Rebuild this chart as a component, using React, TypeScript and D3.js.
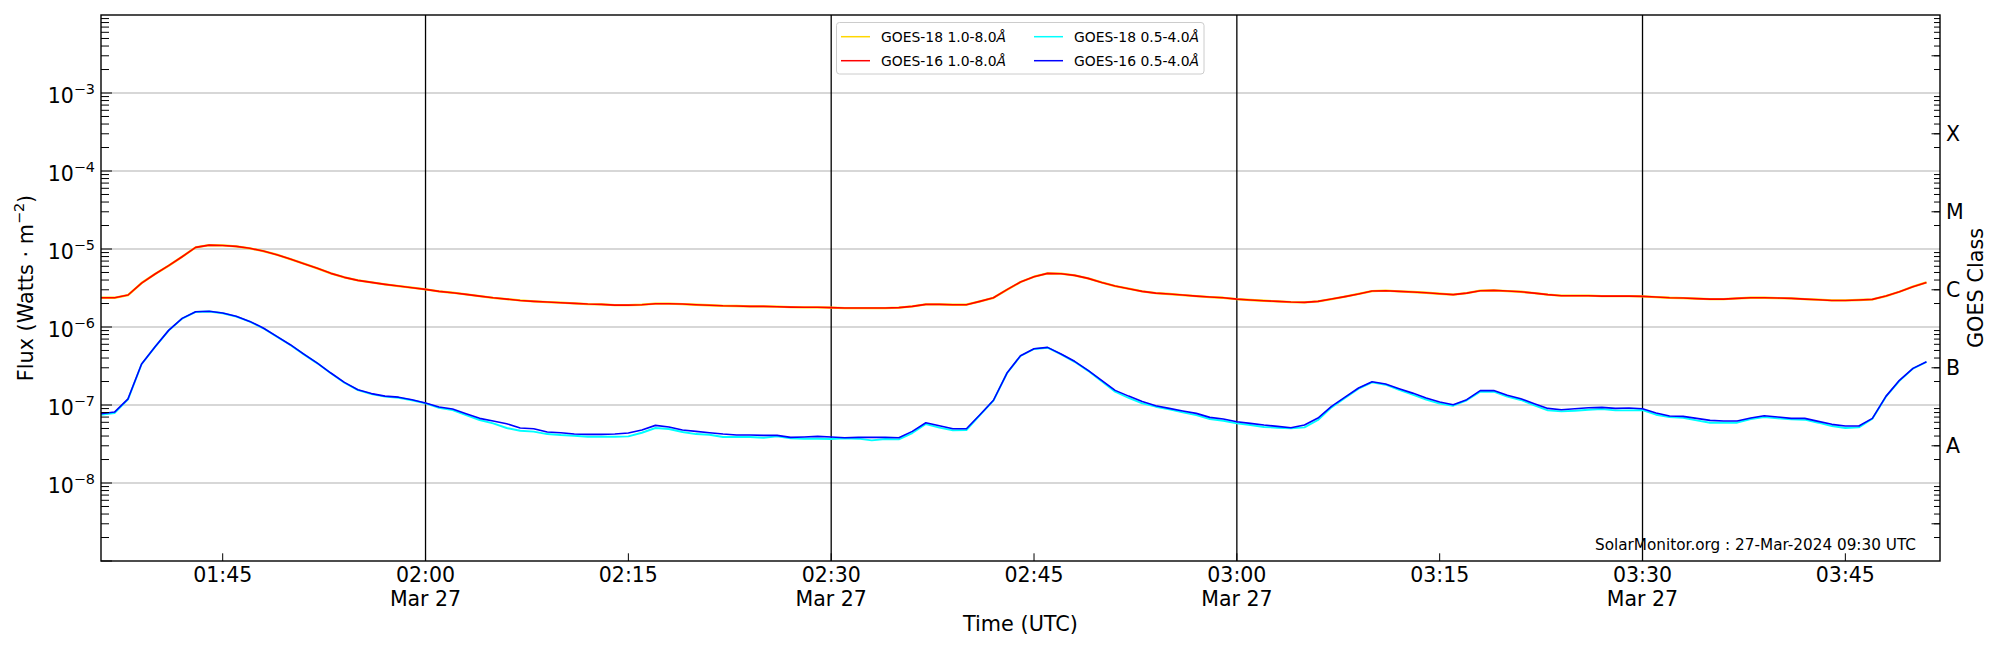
import React from "react";
import * as d3 from "d3";

// ---------- data ----------
const sampleStart = "2024-03-27T01:36:00Z"; // first 1-minute sample
const xDomain = ["2024-03-27T01:36:00Z", "2024-03-27T03:52:00Z"];

const goes16Long = [
  2.37e-6, 2.37e-6, 2.57e-6, 3.66e-6, 4.78e-6, 6.11e-6, 7.96e-6, 1.05e-5, 1.12e-5, 1.11e-5,
  1.08e-5, 1.02e-5, 9.42e-6, 8.45e-6, 7.43e-6, 6.48e-6, 5.65e-6, 4.87e-6, 4.33e-6, 3.96e-6,
  3.73e-6, 3.52e-6, 3.35e-6, 3.19e-6, 3.04e-6, 2.86e-6, 2.75e-6, 2.62e-6, 2.49e-6, 2.37e-6,
  2.28e-6, 2.19e-6, 2.13e-6, 2.09e-6, 2.05e-6, 2.01e-6, 1.97e-6, 1.95e-6, 1.91e-6, 1.91e-6,
  1.93e-6, 1.99e-6, 1.99e-6, 1.97e-6, 1.93e-6, 1.9e-6, 1.87e-6, 1.86e-6, 1.84e-6, 1.84e-6,
  1.82e-6, 1.8e-6, 1.79e-6, 1.79e-6, 1.77e-6, 1.75e-6, 1.75e-6, 1.75e-6, 1.75e-6, 1.77e-6,
  1.84e-6, 1.95e-6, 1.95e-6, 1.93e-6, 1.93e-6, 2.13e-6, 2.37e-6, 3.01e-6, 3.77e-6, 4.41e-6,
  4.87e-6, 4.82e-6, 4.59e-6, 4.2e-6, 3.73e-6, 3.35e-6, 3.1e-6, 2.86e-6, 2.72e-6, 2.65e-6,
  2.57e-6, 2.49e-6, 2.42e-6, 2.37e-6, 2.28e-6, 2.22e-6, 2.17e-6, 2.13e-6, 2.09e-6, 2.07e-6,
  2.13e-6, 2.28e-6, 2.45e-6, 2.65e-6, 2.89e-6, 2.92e-6, 2.86e-6, 2.81e-6, 2.75e-6, 2.67e-6,
  2.6e-6, 2.72e-6, 2.92e-6, 2.95e-6, 2.89e-6, 2.83e-6, 2.72e-6, 2.6e-6, 2.52e-6, 2.52e-6,
  2.52e-6, 2.49e-6, 2.49e-6, 2.49e-6, 2.47e-6, 2.42e-6, 2.37e-6, 2.35e-6, 2.31e-6, 2.28e-6,
  2.28e-6, 2.33e-6, 2.37e-6, 2.37e-6, 2.35e-6, 2.33e-6, 2.28e-6, 2.24e-6, 2.19e-6, 2.19e-6,
  2.22e-6, 2.26e-6, 2.49e-6, 2.83e-6, 3.29e-6, 3.73e-6,
];

// GOES-18 long channel lies right under the GOES-16 curve in the picture
const goes18Long = [...goes16Long];

const goes16Short = [
  7.73e-8, 8.12e-8, 1.2e-7, 3.35e-7, 5.59e-7, 9.05e-7, 1.29e-6, 1.57e-6, 1.59e-6, 1.51e-6,
  1.37e-6, 1.18e-6, 9.7e-7, 7.58e-7, 5.93e-7, 4.5e-7, 3.45e-7, 2.57e-7, 1.95e-7, 1.57e-7,
  1.4e-7, 1.3e-7, 1.26e-7, 1.17e-7, 1.06e-7, 9.42e-8, 8.88e-8, 7.73e-8, 6.74e-8, 6.23e-8,
  5.76e-8, 5.07e-8, 4.97e-8, 4.5e-8, 4.41e-8, 4.24e-8, 4.2e-8, 4.2e-8, 4.24e-8, 4.37e-8,
  4.78e-8, 5.48e-8, 5.22e-8, 4.78e-8, 4.59e-8, 4.41e-8, 4.24e-8, 4.12e-8, 4.12e-8, 4.08e-8,
  4.08e-8, 3.85e-8, 3.89e-8, 3.96e-8, 3.89e-8, 3.81e-8, 3.85e-8, 3.85e-8, 3.85e-8, 3.81e-8,
  4.59e-8, 5.93e-8, 5.43e-8, 4.97e-8, 4.97e-8, 7.51e-8, 1.15e-7, 2.57e-7, 4.29e-7, 5.27e-7,
  5.48e-7, 4.5e-7, 3.63e-7, 2.78e-7, 2.07e-7, 1.54e-7, 1.3e-7, 1.11e-7, 9.79e-8, 9.05e-8,
  8.37e-8, 7.81e-8, 6.94e-8, 6.61e-8, 6.11e-8, 5.81e-8, 5.53e-8, 5.32e-8, 5.12e-8, 5.53e-8,
  6.8e-8, 9.6e-8, 1.26e-7, 1.65e-7, 1.99e-7, 1.86e-7, 1.62e-7, 1.42e-7, 1.23e-7, 1.09e-7,
  1.01e-7, 1.17e-7, 1.53e-7, 1.53e-7, 1.33e-7, 1.2e-7, 1.04e-7, 9.05e-8, 8.71e-8, 8.96e-8,
  9.23e-8, 9.32e-8, 9.05e-8, 9.14e-8, 8.96e-8, 7.89e-8, 7.22e-8, 7.15e-8, 6.74e-8, 6.35e-8,
  6.23e-8, 6.23e-8, 6.81e-8, 7.29e-8, 7.01e-8, 6.74e-8, 6.74e-8, 6.17e-8, 5.65e-8, 5.37e-8,
  5.37e-8, 6.74e-8, 1.29e-7, 2.07e-7, 2.95e-7, 3.59e-7,
];

const goes18Short = [
  7.51e-8, 7.89e-8, 1.18e-7, 3.33e-7, 5.57e-7, 9.0e-7, 1.28e-6, 1.56e-6, 1.58e-6, 1.5e-6,
  1.36e-6, 1.17e-6, 9.62e-7, 7.52e-7, 5.88e-7, 4.46e-7, 3.42e-7, 2.55e-7, 1.93e-7, 1.55e-7,
  1.38e-7, 1.28e-7, 1.24e-7, 1.15e-7, 1.05e-7, 9.2e-8, 8.6e-8, 7.43e-8, 6.42e-8, 5.81e-8,
  5.07e-8, 4.68e-8, 4.55e-8, 4.24e-8, 4.12e-8, 4.04e-8, 3.92e-8, 3.92e-8, 3.92e-8, 3.96e-8,
  4.41e-8, 5.07e-8, 4.92e-8, 4.5e-8, 4.24e-8, 4.16e-8, 3.89e-8, 3.89e-8, 3.89e-8, 3.81e-8,
  3.96e-8, 3.73e-8, 3.7e-8, 3.7e-8, 3.66e-8, 3.73e-8, 3.7e-8, 3.52e-8, 3.66e-8, 3.62e-8,
  4.37e-8, 5.7e-8, 5.12e-8, 4.73e-8, 4.78e-8, 7.43e-8, 1.14e-7, 2.55e-7, 4.25e-7, 5.22e-7,
  5.43e-7, 4.46e-7, 3.58e-7, 2.74e-7, 2.01e-7, 1.48e-7, 1.23e-7, 1.05e-7, 9.51e-8, 8.79e-8,
  8.04e-8, 7.43e-8, 6.61e-8, 6.29e-8, 5.81e-8, 5.53e-8, 5.22e-8, 5.12e-8, 5.02e-8, 5.17e-8,
  6.42e-8, 9.32e-8, 1.23e-7, 1.62e-7, 1.95e-7, 1.82e-7, 1.56e-7, 1.36e-7, 1.17e-7, 1.04e-7,
  9.79e-8, 1.15e-7, 1.48e-7, 1.48e-7, 1.28e-7, 1.16e-7, 9.89e-8, 8.54e-8, 8.29e-8, 8.45e-8,
  8.71e-8, 8.88e-8, 8.54e-8, 8.54e-8, 8.62e-8, 7.51e-8, 7.01e-8, 6.87e-8, 6.35e-8, 5.93e-8,
  5.93e-8, 5.93e-8, 6.61e-8, 7.01e-8, 6.74e-8, 6.54e-8, 6.48e-8, 5.93e-8, 5.37e-8, 5.07e-8,
  5.17e-8, 6.67e-8, 1.28e-7, 2.04e-7, 2.93e-7, 3.56e-7,
];

const seriesNames = [
  "GOES-18 1.0-8.0",
  "GOES-16 1.0-8.0",
  "GOES-18 0.5-4.0",
  "GOES-16 0.5-4.0",
];
const seriesColors = ["#ffd700", "#ff0000", "#00ffff", "#0000ff"];
const seriesWidths = [2.3, 1.6, 1.9, 1.6];
const seriesData = [goes18Long, goes16Long, goes18Short, goes16Short];

const xTickTimes = ["01:45", "02:00", "02:15", "02:30", "02:45", "03:00", "03:15", "03:30", "03:45"];
const xTickDates = ["", "Mar 27", "", "Mar 27", "", "Mar 27", "", "Mar 27", ""];
const vLineTimes = ["02:00", "02:30", "03:00", "03:30"];

const yTickExponents = [-8, -7, -6, -5, -4, -3];
const goesClassLabels = ["A", "B", "C", "M", "X"];
const goesClassLevels = [3e-8, 3e-7, 3e-6, 3e-5, 3e-4];

const watermark = "SolarMonitor.org : 27-Mar-2024 09:30 UTC";

// ---------- layout ----------
const W = 2000;
const H = 650;
const L = 101;
const R = 1940;
const T = 15;
const B = 561;
const FONT = "DejaVu Sans";
const TICK_FS = 20.5;
const SUP_FS = 14.4;

const toTime = (hm: string) => new Date(`2024-03-27T${hm}:00Z`);

export default function App() {
  const x = d3
    .scaleUtc()
    .domain([new Date(xDomain[0]), new Date(xDomain[1])])
    .range([L, R]);
  const y = d3.scaleLog().domain([1e-9, 1e-2]).range([B, T]);

  const t0 = new Date(sampleStart);
  const times = goes16Long.map((_, i) => d3.utcMinute.offset(t0, i));

  const line = d3
    .line<number>()
    .x((_, i) => x(times[i]))
    .y((d) => y(d));

  const decades = d3.range(-9, -2);
  const minorVals: number[] = [];
  decades.forEach((e) => {
    for (let k = 2; k <= 9; k++) minorVals.push(k * Math.pow(10, e));
  });
  const rightMajor = [3e-9, ...goesClassLevels, 3e-3];

  return (
    <div style={{ position: "absolute", left: 0, top: 0 }}>
      <svg width={W} height={H} style={{ display: "block", background: "#fff" }} fontFamily={FONT}>
        <defs>
          <clipPath id="plotClip">
            <rect x={L} y={T} width={R - L} height={B - T} />
          </clipPath>
        </defs>
        <rect x={0} y={0} width={W} height={H} fill="#fff" />

        {/* horizontal grid */}
        {yTickExponents.map((e) => (
          <line key={"g" + e} x1={L} x2={R} y1={y(Math.pow(10, e))} y2={y(Math.pow(10, e))} stroke="#b0b0b0" strokeWidth={1.1} />
        ))}

        {/* vertical black lines */}
        {vLineTimes.map((t) => (
          <line key={"v" + t} x1={x(toTime(t))} x2={x(toTime(t))} y1={T} y2={B} stroke="#000" strokeWidth={1.3} />
        ))}

        {/* series */}
        <g clipPath="url(#plotClip)">
          {seriesData.map((d, i) => (
            <path key={"s" + i} d={line(d) || ""} fill="none" stroke={seriesColors[i]} strokeWidth={seriesWidths[i]} strokeLinejoin="round" />
          ))}
        </g>

        {/* left ticks */}
        {minorVals.map((v, i) => (
          <line key={"lm" + i} x1={L} x2={L + 8} y1={y(v)} y2={y(v)} stroke="#000" strokeWidth={1} />
        ))}
        {decades.map((e) => (
          <line key={"lM" + e} x1={L} x2={L + 11} y1={y(Math.pow(10, e))} y2={y(Math.pow(10, e))} stroke="#000" strokeWidth={1} />
        ))}
        {/* right ticks */}
        {minorVals.map((v, i) => (
          <line key={"rm" + i} x1={R - 6} x2={R} y1={y(v)} y2={y(v)} stroke="#000" strokeWidth={1} />
        ))}
        {rightMajor.map((v, i) => (
          <line key={"rM" + i} x1={R - 8.5} x2={R} y1={y(v)} y2={y(v)} stroke="#000" strokeWidth={1} />
        ))}
        {/* bottom ticks */}
        {xTickTimes.map((t) => (
          <line key={"bt" + t} x1={x(toTime(t))} x2={x(toTime(t))} y1={B} y2={B - 7.7} stroke="#000" strokeWidth={1} />
        ))}

        {/* frame */}
        <rect x={L} y={T} width={R - L} height={B - T} fill="none" stroke="#000" strokeWidth={1.4} />

        {/* y tick labels */}
        {yTickExponents.map((e) => (
          <text key={"yl" + e} x={95} y={y(Math.pow(10, e)) + 9.5} textAnchor="end" fontSize={TICK_FS}>
            10
            <tspan dy={-8.8} fontSize={SUP_FS}>{"\u2212" + Math.abs(e)}</tspan>
          </text>
        ))}

        {/* x tick labels */}
        {xTickTimes.map((t, i) => (
          <text key={"xl" + t} x={x(toTime(t))} y={B + 21} textAnchor="middle" fontSize={TICK_FS}>
            {t}
            {xTickDates[i] && (
              <tspan x={x(toTime(t))} dy={23.5}>
                {xTickDates[i]}
              </tspan>
            )}
          </text>
        ))}

        {/* GOES class labels */}
        {goesClassLabels.map((c, i) => (
          <text key={"c" + c} x={R + 6} y={y(goesClassLevels[i]) + 7.5} fontSize={TICK_FS}>
            {c}
          </text>
        ))}

        {/* axis labels */}
        <text x={(L + R) / 2} y={631} textAnchor="middle" fontSize={20.8}>
          Time (UTC)
        </text>
        <text transform={`translate(32.5, ${(T + B) / 2}) rotate(-90)`} textAnchor="middle" fontSize={20.8}>
          Flux (Watts · m
          <tspan dy={-8.5} fontSize={SUP_FS}>{"\u22122"}</tspan>
          <tspan dy={8.5}>)</tspan>
        </text>
        <text transform={`translate(1983, ${(T + B) / 2}) rotate(-90)`} textAnchor="middle" fontSize={20.8}>
          GOES Class
        </text>

        {/* watermark */}
        <text x={1916} y={549.5} textAnchor="end" fontSize={15.25}>
          {watermark}
        </text>

        {/* legend */}
        <g>
          <rect x={836.5} y={22.5} width={367.5} height={51.5} rx={3} fill="#fff" fillOpacity={0.8} stroke="#cccccc" strokeWidth={1} />
          {seriesNames.map((name, i) => {
            const col = Math.floor(i / 2);
            const row = i % 2;
            const lx = col === 0 ? 841 : 1034;
            const ly = row === 0 ? 36.7 : 60.7;
            return (
              <g key={"lg" + i}>
                <line x1={lx} x2={lx + 29} y1={ly} y2={ly} stroke={seriesColors[i]} strokeWidth={1.5} />
                <text x={lx + 40} y={ly + 5} fontSize={13.9}>
                  {name}
                  <tspan fontStyle="italic">Å</tspan>
                </text>
              </g>
            );
          })}
        </g>
      </svg>
    </div>
  );
}
